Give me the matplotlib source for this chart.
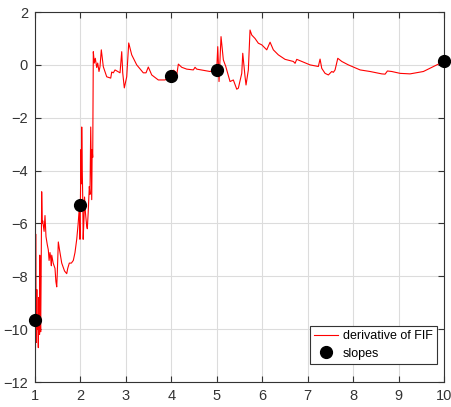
import matplotlib
matplotlib.use('Agg')
import matplotlib.pyplot as plt

plt.rcParams['font.family'] = ['Liberation Sans', 'DejaVu Sans']

# derivative of the FIF
x_fif = [1.0, 1.005, 1.01, 1.015, 1.02, 1.03, 1.04, 1.05, 1.06, 1.073, 1.085, 1.1,
         1.105, 1.115, 1.125, 1.135, 1.147, 1.16, 1.17, 1.2, 1.22, 1.242, 1.27,
         1.293, 1.31, 1.33, 1.345, 1.36, 1.368, 1.4, 1.44, 1.46, 1.478, 1.49, 1.513,
         1.54, 1.588, 1.65, 1.698, 1.72, 1.755, 1.8, 1.843, 1.88, 1.918, 1.95, 1.975,
         1.99, 2.0, 2.012, 2.02, 2.028, 2.04, 2.05, 2.06, 2.078, 2.09, 2.11, 2.138,
         2.151, 2.17, 2.195, 2.21, 2.226, 2.235, 2.248, 2.258, 2.27, 2.283, 2.305,
         2.327, 2.358, 2.38, 2.408, 2.43, 2.459, 2.503, 2.578, 2.666, 2.688, 2.723,
         2.761, 2.871, 2.908, 2.93, 2.965, 3.018, 3.062, 3.128, 3.238, 3.383, 3.443,
         3.493, 3.568, 3.713, 3.861, 3.993, 4.05, 4.081, 4.118, 4.154, 4.228, 4.338,
         4.484, 4.521, 4.558, 4.851, 4.999, 5.021, 5.049, 5.093, 5.144, 5.197, 5.291,
         5.364, 5.439, 5.474, 5.549, 5.571, 5.621, 5.643, 5.694, 5.731, 5.769, 5.841,
         5.914, 5.989, 6.099, 6.172, 6.244, 6.354, 6.502, 6.684, 6.722, 6.759, 6.869,
         7.052, 7.234, 7.272, 7.309, 7.382, 7.455, 7.529, 7.565, 7.602, 7.662, 7.75,
         7.895, 8.153, 8.373, 8.63, 8.703, 8.754, 8.85, 9.033, 9.252, 9.545, 9.84, 10.0]
y_fif = [-9.6, -7.5, -10.8, -6.4, -9.0, -10.5, -8.5, -10.0, -9.5, -10.7, -8.8, -10.2,
         -7.2, -9.5, -10.1, -8.0, -4.8, -6.0, -5.9, -6.3, -5.7, -6.5, -6.8,
         -7.0, -7.4, -7.1, -7.3, -7.6, -7.2, -7.5, -7.7, -8.2, -8.4, -7.9, -6.7,
         -7.0, -7.5, -7.8, -7.9, -7.7, -7.5, -7.5, -7.4, -7.1, -6.6, -6.0, -5.4,
         -6.6, -5.0, -3.2, -4.5, -2.35, -4.0, -5.0, -6.6, -5.8, -5.0, -5.6, -6.1,
         -6.2, -5.6, -4.6, -4.9, -2.35, -3.5, -5.1, -3.2, -3.5, 0.5, 0.07,
         0.25, -0.1, 0.07, -0.25, -0.07, 0.57, -0.07, -0.45, -0.5, -0.27, -0.3,
         -0.19, -0.3, 0.5, -0.3, -0.87, -0.45, 0.83, 0.38, 0.0, -0.3, -0.3,
         -0.08, -0.38, -0.57, -0.57, -0.42, -0.2, -0.25, -0.38, 0.03, -0.09, -0.16,
         -0.19, -0.09, -0.16, -0.25, -0.16, 0.69, -0.63, 1.07, 0.19, -0.06, -0.63,
         -0.57, -0.92, -0.88, -0.32, 0.44, -0.44, -0.76, -0.19, 1.32, 1.13, 1.0,
         0.82, 0.76, 0.57, 0.86, 0.57, 0.38, 0.21, 0.13, 0.06, 0.21, 0.13,
         0.0, -0.06, 0.22, -0.13, -0.32, -0.38, -0.25, -0.28, -0.19, 0.25, 0.13,
         0.0, -0.19, -0.25, -0.34, -0.35, -0.23, -0.25, -0.32, -0.34, -0.25, 0.0, 0.13]

# slopes
x_slopes = [1, 2, 4, 5, 10]
y_slopes = [-9.65, -5.3, -0.42, -0.18, 0.13]

fig = plt.figure(figsize=(4.51, 4.07), dpi=100)
ax = fig.add_axes([0.0776, 0.0614, 0.907, 0.909])

ax.plot(x_fif, y_fif, color='red', lw=0.8, label='derivative of FIF', zorder=2)
ax.plot(x_slopes, y_slopes, 'o', color='black', ms=8.5, label='slopes',
        clip_on=False, zorder=3)

ax.set_xlim(1, 10)
ax.set_ylim(-12, 2)
ax.set_xticks(range(1, 11))
ax.set_yticks(range(-12, 3, 2))
ax.grid(True, color='#dcdcdc', lw=0.8)
ax.set_axisbelow(True)
ax.tick_params(direction='in', top=True, right=True, length=4, width=0.8,
               color='#333333', labelsize=10.5, labelcolor='#333333', pad=5)
for s in ax.spines.values():
    s.set_color('#333333')
    s.set_linewidth(0.8)

leg = ax.legend(loc='lower right', bbox_to_anchor=(0.983, 0.049), fontsize=9,
                fancybox=False, framealpha=1, edgecolor='#333333',
                handlelength=1.9, borderpad=0.35, labelspacing=0.45,
                handletextpad=0.4, borderaxespad=0)
leg.get_frame().set_linewidth(0.8)

fig.savefig('out.png', dpi=100)
